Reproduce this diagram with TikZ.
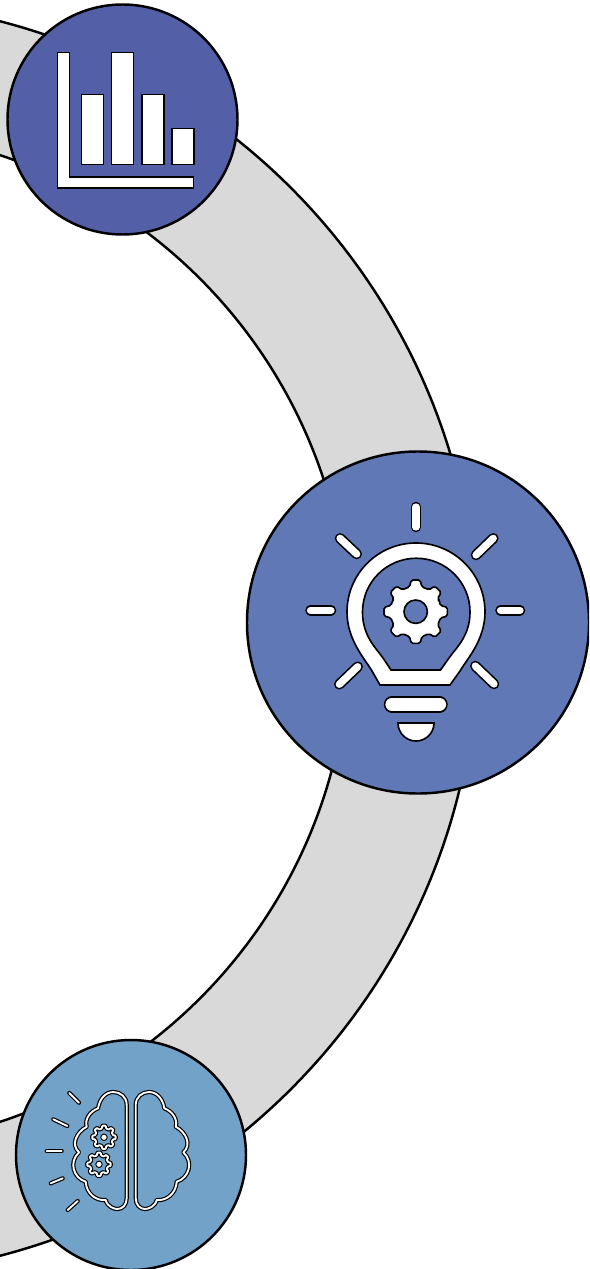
\documentclass[tikz,border=0pt]{standalone}
\usepackage{amsmath}
\usetikzlibrary{calc}

\definecolor{ringgray}{HTML}{D9D9D9}
\definecolor{chartblue}{HTML}{535FA6}
\definecolor{bulbblue}{HTML}{6079B6}
\definecolor{brainblue}{HTML}{73A2C9}

\tikzset{
  hub/.style={circle, draw=black, line width=2.1pt, inner sep=0pt},
  band/.style={draw=black, fill=ringgray, line width=2.1pt, even odd rule},
  solidicon/.style={draw=black, fill=white, line width=1.4pt, even odd rule},
  bulbray/.style={draw=black, line cap=round, line width=1.4pt, double=white, double distance=6.2pt},
  thinline/.style={draw=black, line width=1pt, double=white, double distance=1.6pt, line join=round},
  thinray/.style={thinline, line cap=round},
}

% one gear: centre, tip radius, root radius
\newcommand{\gearpath}[3]{
  ([shift={(#1)}]-22.5:#3)
  \foreach \a in {0,45,...,315} {
    -- ([shift={(#1)}]\a-14:#3) -- ([shift={(#1)}]\a-8:#2)
    -- ([shift={(#1)}]\a+8:#2) -- ([shift={(#1)}]\a+14:#3)
    -- ([shift={(#1)}]\a+22.5:#3)
  } -- cycle
}
\newcommand{\lobepath}{
  (135.7,1105) .. controls (135.7,1097) and (142,1092) .. (149,1092)
  .. controls (157,1092) and (163,1099) .. (164.3,1108.3)
  .. controls (172,1111) and (178,1119) .. (175.7,1126.7)
  .. controls (186,1132) and (192,1145) .. (183.3,1152.3)
  .. controls (194,1162) and (189,1178) .. (176.7,1181.7)
  .. controls (176,1194) and (166,1201) .. (156.7,1200)
  .. controls (155,1207) and (148,1209) .. (145,1209)
  .. controls (140,1209) and (135.7,1205) .. (135.7,1198) -- cycle
}

\begin{document}
\begin{tikzpicture}[x=0.03cm, y=-0.03cm]
  \useasboundingbox (0,0) rectangle (589,1269);
  \clip (0,0) rectangle (589,1269);

  % band
  \coordinate (ringcentre) at (-160,638.5);
  \draw[band] (ringcentre) circle[radius=637.5] (ringcentre) circle[radius=509];

  % hubs
  \node[hub, fill=chartblue, minimum size=6.9cm] (charthub) at (122.5,119.5) {};
  \node[hub, fill=bulbblue, minimum size=10.26cm] (bulbhub) at (418,622.5) {};
  \node[hub, fill=brainblue, minimum size=6.9cm] (brainhub) at (131,1155) {};

  % chart
  \draw[solidicon] (57.5,52.5) -- (69.5,52.5) -- (69.5,177) -- (193.5,177) -- (193.5,188) -- (57.5,188) -- cycle;
  \foreach \xa/\xb/\ytop in {81.5/103.5/94.5, 111.5/133.5/52.5, 142/164/94.5, 172/194/128.5}
    \draw[solidicon] (\xa,\ytop) rectangle (\xb,164.5);

  % bulb
  \draw[solidicon]
    (380,685) -- (372,671) .. controls (365,659) and (347,640) .. (347,612)
    arc (180:360:69) .. controls (485,640) and (467,659) .. (460,671) -- (450,685) -- cycle
    (391,670) -- (383,658) .. controls (376,648) and (362.5,636) .. (362.5,612)
    arc (180:360:53.75) .. controls (470,636) and (456,648) .. (449,658) -- (440.5,670) -- cycle;
  \draw[solidicon, rounded corners=1.5pt] \gearpath{415.7,611.7}{32}{25.5} (415.7,611.7) circle[radius=11.7];
  \foreach \xa/\ya/\xb/\yb in {416/507/416/527, 500.5/610.3/520/610.3, 310.5/610.3/331/610.3,
      340/538.3/356.7/554, 493.3/538.3/476/555, 357.7/666.7/339.3/684.3, 475.3/666/494/684}
    \draw[bulbray] (\xa,\ya) -- (\xb,\yb);
  \draw[bulbray, double distance=11.2pt] (392,704.3) -- (439.5,704.3);
  \draw[solidicon] (398,723) -- (434,723) arc (0:180:18) -- cycle;

  % brain
  \draw[thinline] \lobepath;
  \begin{scope}[shift={(262.4,0)}, xscale=-1]
    \draw[thinline] \lobepath;
  \end{scope}
  \foreach \gx/\gy in {104/1137.3, 99/1164.3} {
    \draw[thinline, rounded corners=0.6pt] \gearpath{\gx,\gy}{11.8}{9};
    \draw[black, fill=white, line width=0.8pt] (\gx,\gy) circle[radius=3.2];
  }
  \foreach \xa/\ya/\xb/\yb in {69.3/1093/79/1102.7, 53.3/1119.3/67.3/1126, 46.7/1151/61.7/1151,
      50.7/1183.3/62.7/1178.3, 67.7/1210/77.7/1201}
    \draw[thinray] (\xa,\ya) -- (\xb,\yb);
\end{tikzpicture}
\end{document}
